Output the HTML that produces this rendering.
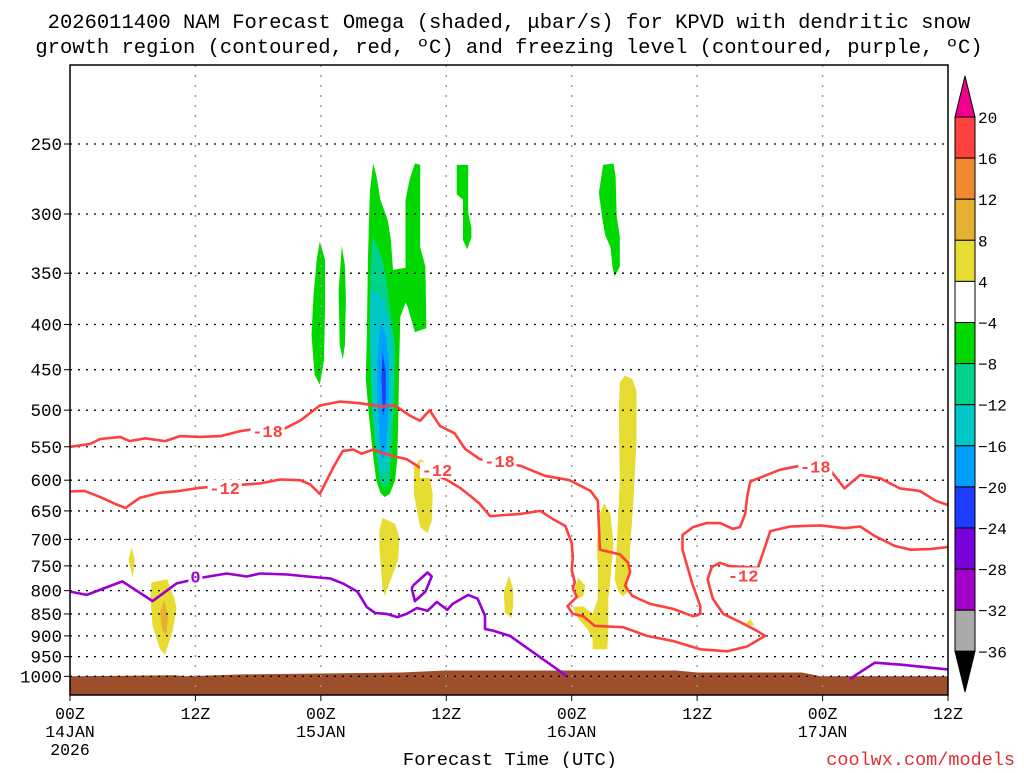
<!DOCTYPE html>
<html><head><meta charset="utf-8"><style>
body{margin:0;background:#fff;}
svg text{font-family:"Liberation Mono",monospace;}
</style></head><body>
<svg id="chart" width="1024" height="768" xmlns="http://www.w3.org/2000/svg">
<text x="509" y="28" font-size="20.5" text-anchor="middle" fill="#000">2026011400 NAM Forecast Omega (shaded, μbar/s) for KPVD with dendritic snow</text>
<text x="509" y="53" font-size="20.5" text-anchor="middle" fill="#000">growth region (contoured, red, ºC) and freezing level (contoured, purple, ºC)</text>
<defs><clipPath id="plotclip"><rect x="70" y="65" width="878" height="630"/></clipPath></defs>
<g id="shade" clip-path="url(#plotclip)"></g>
<g id="grid"></g>
<g id="lines" clip-path="url(#plotclip)"></g>
<g id="axes"></g>
<g id="cbar"></g>
<text x="510" y="765" font-size="18.8" text-anchor="middle">Forecast Time (UTC)</text>
<text x="1015" y="765" font-size="18.5" text-anchor="end" fill="#e03030">coolwx.com/models</text>
</svg>
<script>
const pTicks=[250,300,350,400,450,500,550,600,650,700,750,800,850,900,950,1000];
const hTicks=[0,12,24,36,48,60,72,84];
const hLabels1=["00Z","12Z","00Z","12Z","00Z","12Z","00Z","12Z"];
const hLabels2=["14JAN","","15JAN","","16JAN","","17JAN",""];
const cbLevels=["20","16","12","8","4","−4","−8","−12","−16","−20","−24","−28","−32","−36"];
const cbColors=["#ff4040","#f08a30","#e6b030","#e6dc32","#ffffff","#00d800","#00d28c","#00c8c8","#00a0ff","#1e3cff","#7800d8","#a000c8","#aaaaaa"];
const terrainH=[0,10,11,16.5,26,31.7,35.9,46,52,58,60,70,71.8,84];
const terrainP=[1000,997,1000,995,992,990,985,985,985,985,990,990,1000,1000];
const shadeColors={g:"#00d800",t:"#00d28c",c:"#00c8c8",b:"#00a0ff",d:"#1e3cff",y:"#e6dc32",o:"#e6b030"};
const regions=[
["g",[[23.9,322],[24.4,338],[24.4,384],[24.3,439],[23.9,468],[23.4,456],[23.1,411],[23.3,371],[23.6,338]]],
["g",[[26.0,326],[26.3,343],[26.4,375],[26.3,422],[26.1,438],[25.8,422],[25.7,366],[25.9,340]]],
["g",[[29.0,263],[29.3,271],[29.7,289],[30.4,305],[30.7,321],[30.9,347],[32.1,345],[32.1,289],[32.5,274],[33.0,263],[33.5,264],[33.5,327],[34.0,344],[34.1,404],[33.0,408],[32.3,382],[32.1,378],[31.6,392],[31.5,439],[31.4,514],[31.3,569],[31.1,600],[30.6,622],[30.1,627],[29.7,620],[29.3,600],[29.0,562],[28.6,507],[28.3,461],[28.4,413],[28.5,340],[28.6,307],[28.7,282]]],
["t",[[29.0,318],[29.9,338],[30.3,359],[30.7,392],[31.1,422],[31.0,487],[30.8,551],[30.6,600],[30.1,615],[29.7,605],[29.2,551],[28.9,496],[28.7,416],[28.7,366],[28.9,323]]],
["c",[[28.9,366],[29.9,373],[30.6,399],[30.9,439],[30.9,472],[30.6,542],[30.3,584],[29.9,597],[29.5,565],[28.9,496],[28.7,416],[28.7,382]]],
["b",[[29.7,398],[30.2,411],[30.5,439],[30.5,496],[30.2,559],[29.9,571],[29.7,554],[29.4,487],[29.4,439],[29.6,411]]],
["d",[[29.9,430],[30.2,452],[30.2,487],[30.0,508],[29.9,493],[29.8,461]]],
["g",[[37.0,264],[38.1,264],[38.1,299],[38.4,311],[38.4,319],[38.0,329],[37.6,321],[37.6,289],[37.0,285]]],
["g",[[51.0,264],[52.0,263],[52.2,272],[52.3,302],[52.6,318],[52.6,344],[52.1,353],[51.9,344],[51.7,327],[51.2,317],[50.9,302],[50.6,284],[50.8,274]]],
["y",[[5.9,715],[6.2,738],[6.0,773],[5.6,738]]],
["y",[[7.8,783],[9.3,777],[10.0,817],[10.2,839],[9.8,891],[9.1,945],[8.6,932],[7.9,877],[7.7,817]]],
["o",[[9.0,821],[9.4,854],[9.2,900],[8.8,884],[8.6,846]]],
["y",[[29.9,662],[31.1,672],[31.5,696],[31.4,738],[30.8,771],[30.1,811],[29.9,796],[29.6,715],[29.6,684]]],
["y",[[33.5,568],[34.2,574],[34.7,622],[34.6,667],[34.2,689],[33.5,678],[32.9,622],[32.9,580]]],
["y",[[42.0,769],[42.4,796],[42.4,833],[42.2,859],[41.6,846],[41.5,803]]],
["y",[[53.1,457],[53.8,461],[54.2,476],[54.2,542],[53.9,633],[53.6,715],[53.5,763],[53.3,803],[52.9,813],[52.5,803],[52.1,777],[52.3,715],[52.6,600],[52.5,500],[52.6,465]]],
["y",[[51.1,637],[51.7,655],[52.0,707],[51.7,777],[51.5,817],[51.5,891],[51.4,932],[50.0,932],[50.0,907],[49.5,884],[48.5,857],[48.1,835],[49.1,833],[50.0,850],[50.5,817],[50.5,752],[50.4,707],[50.7,655]]],
["y",[[48.6,773],[49.3,790],[49.1,811],[48.6,817],[48.3,796]]],
["y",[[64.6,873],[65.1,861],[65.5,877]]]
];
const line18=[[0,550],[1.9,546],[2.9,539],[4.8,536],[5.7,542],[7.2,538],[9.1,542],[10.5,535],[12.4,536],[14.4,535],[16.3,528],[17.7,525],[20.6,524],[22.0,514],[23.9,494],[25.8,489],[27.7,491],[29.7,495],[31.1,494],[32.5,507],[33.5,514],[34.4,500],[35.4,521],[36.8,531],[37.8,553],[39.2,568],[43.1,578],[45.4,593],[47.8,600],[49.8,617],[50.5,633],[50.7,719],[52.6,728],[53.4,744],[53.6,762],[53.1,790],[53.8,811],[55.5,828],[57.7,839],[59.6,855],[60.3,850],[60.3,833],[59.5,783],[58.6,719],[58.6,692],[59.6,678],[60.9,671],[62.2,671],[63.4,681],[64.1,678],[64.6,655],[64.8,625],[65.1,602],[67.9,584],[69.8,578],[72.7,584],[74.1,613],[75.6,592],[77.5,597],[79.4,613],[81.3,617],[82.8,633],[84,640]];
const line12=[[0,618],[1.4,617],[2.9,627],[4.3,638],[5.3,645],[6.7,628],[8.6,620],[10.5,617],[12.4,612],[16.7,607],[18.2,605],[20.1,599],[22.0,600],[23.0,607],[23.9,622],[25.2,580],[26.1,556],[27.1,554],[27.9,560],[29.0,554],[29.9,559],[31.3,565],[32.2,568],[33.5,581],[36.1,600],[37.3,612],[38.3,625],[39.2,638],[40.2,659],[41.6,657],[43.1,655],[45.0,650],[46.2,664],[47.4,676],[48.0,707],[48.1,733],[48.0,758],[48.3,783],[48.1,796],[48.5,813],[47.6,833],[48.1,850],[49.1,855],[50.2,877],[52.9,880],[55.2,900],[57.7,912],[60.3,932],[62.9,937],[64.8,925],[66.5,900],[65.7,888],[64.1,868],[62.5,850],[61.5,817],[61.0,777],[61.4,752],[62.2,744],[63.0,750],[65.8,754],[66.7,702],[67.0,685],[68.9,677],[71.8,675],[74.1,680],[75.6,677],[77.0,694],[78.9,712],[80.4,719],[82.3,718],[84,714]];
const line0a=[[0,802],[1.6,809],[5.0,781],[7.9,822],[10.2,785],[11.5,779],[12.7,773],[15.0,765],[16.9,771],[18.2,765],[20.8,767],[22.7,771],[24.9,775],[26.1,785],[27.5,802],[28.4,835],[29.2,848],[30.3,850],[31.3,857],[32.2,850],[33.2,837],[34.2,843],[35.1,824],[36.1,841],[36.6,828],[38.1,809],[39.0,817],[39.7,854],[39.7,884],[40.5,888],[42.1,900],[45.0,952],[46.9,987],[47.5,1000]];
const line0b=[[74.6,1007],[77.0,965],[79.4,970],[84,982]];
const line0c=[[32.8,790],[34.2,763],[34.6,771],[34.0,802],[33.0,822],[32.7,796],[32.8,790]];
const labelText=["-18","-18","-18","-12","-12","-12","0"];
const labelH=[18.9,41.1,71.3,14.8,35.1,64.4,12.0];
const labelP=[528,571,579,612,584,769,771];
const labelColor=["#ff4040","#ff4040","#ff4040","#ff4040","#ff4040","#ff4040","#9b00d3"];

const NS="http://www.w3.org/2000/svg";
const X=h=>70+h*(878/84);
const Y=p=>144+384*Math.log(p/250);
function mk(tag,attrs,parent){const e=document.createElementNS(NS,tag);for(const k in attrs)e.setAttribute(k,attrs[k]);parent.appendChild(e);return e;}
const shadeG=document.getElementById('shade'),gridG=document.getElementById('grid'),linesG=document.getElementById('lines'),axesG=document.getElementById('axes'),cbarG=document.getElementById('cbar');

regions.forEach((r,i)=>{
 const e=mk('polygon',{points:r[1].map(q=>X(q[0]).toFixed(1)+','+Y(q[1]).toFixed(1)).join(' '),fill:shadeColors[r[0]]},shadeG);
 
 
});
let tp='';terrainH.forEach((h,i)=>{tp+=X(h).toFixed(1)+','+Y(terrainP[i]).toFixed(1)+' ';});
tp+=X(84)+',700 '+X(0)+',700';
const terr=mk('polygon',{points:tp,fill:'#9c4f2a'},shadeG);



pTicks.forEach(p=>{
 const y=Y(p);
 const gl=mk('line',{x1:70,x2:948,y1:y,y2:y,stroke:'#000','stroke-width':1.3,'stroke-dasharray':'2,6'},gridG);
 
 
 const t=mk('text',{x:62,y:y+6,'font-size':17.5,'text-anchor':'end'},axesG);t.textContent=p;
 
 
 mk('line',{x1:70,x2:64,y1:y,y2:y,stroke:'#000','stroke-width':1},axesG);
});
hTicks.forEach((h,i)=>{
 const x=X(h);
 if(i>0&&i<hTicks.length-1){const vl=mk('line',{x1:x,x2:x,y1:65,y2:695,stroke:'#999','stroke-width':1.5,'stroke-dasharray':'2,8'},gridG);
 
 }
 mk('line',{x1:x,x2:x,y1:695,y2:701,stroke:'#000','stroke-width':1},axesG);
 const t=mk('text',{x:x,y:719,'font-size':16.5,'text-anchor':'middle'},axesG);t.textContent=hLabels1[i];
 
 
 if(hLabels2[i]){const t2=mk('text',{x:x,y:737,'font-size':16.5,'text-anchor':'middle'},axesG);t2.textContent=hLabels2[i];
 
 }
});
const yr=mk('text',{x:X(0),y:755,'font-size':16.5,'text-anchor':'middle'},axesG);yr.textContent='2026';


const frame=mk('rect',{x:70,y:65,width:878,height:630,fill:'none',stroke:'#000','stroke-width':1.5},axesG);



function drawLine(pts,color,name){
 const e=mk('polyline',{points:pts.map(q=>X(q[0]).toFixed(1)+','+Y(q[1]).toFixed(1)).join(' '),fill:'none',stroke:color,'stroke-width':2.6,'stroke-linejoin':'round'},linesG);
 
 
}
drawLine(line18,'#ff4040','contour-minus18');
drawLine(line12,'#ff4040','contour-minus12');
drawLine(line0a,'#9b00d3','freezing-level-0');
drawLine(line0b,'#9b00d3','freezing-level-0-east');
drawLine(line0c,'#9b00d3','freezing-level-0-loop');
labelText.forEach((s,i)=>{
 const x=X(labelH[i]),y=Y(labelP[i]);const w=s.length*10+4;
 mk('rect',{x:x-w/2,y:y-8,width:w,height:16,fill:'#fff'},linesG);
 const t=mk('text',{x:x,y:y+6,'font-size':17,'font-weight':'bold','text-anchor':'middle',fill:labelColor[i]},linesG);t.textContent=s;
 
 
});

const cbX=955,cbW=20,cbTop=117,cbStep=41.1;
const tri1=mk('polygon',{points:`${cbX},${cbTop} ${cbX+cbW},${cbTop} ${cbX+cbW/2},76`,fill:'#f0008c',stroke:'#000','stroke-width':1},cbarG);


cbColors.forEach((c,i)=>{
 const r=mk('rect',{x:cbX,y:cbTop+i*cbStep,width:cbW,height:cbStep,fill:c,stroke:'#000','stroke-width':1},cbarG);
 
 
});
const cbBot=cbTop+cbColors.length*cbStep;
const tri2=mk('polygon',{points:`${cbX},${cbBot} ${cbX+cbW},${cbBot} ${cbX+cbW/2},692`,fill:'#000',stroke:'#000','stroke-width':1},cbarG);


cbLevels.forEach((s,i)=>{
 const t=mk('text',{x:978,y:cbTop+i*cbStep+6,'font-size':16},cbarG);t.textContent=s;
 
 
});
</script>
</body></html>
